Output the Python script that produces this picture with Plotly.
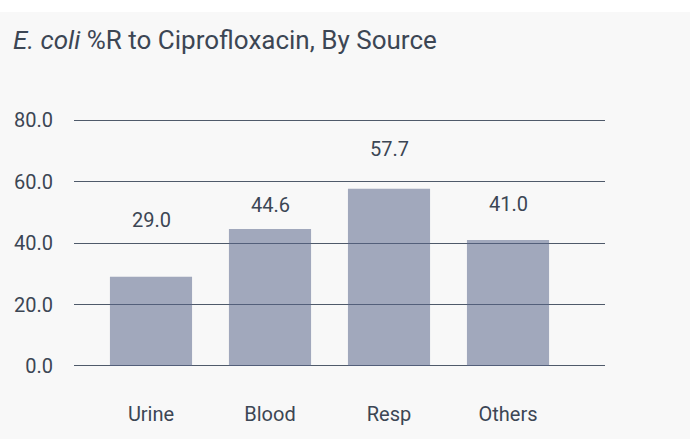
import plotly.graph_objects as go

categories = ["Urine", "Blood", "Resp", "Others"]
values = [29.0, 44.6, 57.7, 41.0]
y_ticks = [0, 20, 40, 60, 80]
y_tick_labels = ["0.0", "20.0", "40.0", "60.0", "80.0"]

# style: per-label vertical offsets (px) as seen in the reference
label_shift = [43, 10, 26, 22]

TXT = "#3c4654"
FONT = "Roboto"

fig = go.Figure()
fig.add_trace(go.Bar(
    x=list(range(len(categories))), y=values,
    width=0.69,
    marker=dict(color="rgba(86,100,136,0.54)", line=dict(width=0)),
    hoverinfo="skip",
))

for i, (v, s) in enumerate(zip(values, label_shift)):
    fig.add_annotation(x=i, y=v, text=f"{v:.1f}", showarrow=False,
                       yanchor="bottom", yshift=s,
                       font=dict(family=FONT, size=20, color=TXT))

# white strip at the very top of the image
fig.add_shape(type="rect", xref="paper", yref="paper",
              x0=-1, x1=2, y0=1.405, y1=1.7,
              fillcolor="white", line=dict(width=0), layer="below")

fig.update_layout(
    width=690, height=439,
    margin=dict(l=74, r=85, t=114, b=73),
    paper_bgcolor="#f8f8f8", plot_bgcolor="#f8f8f8",
    showlegend=False,
    font=dict(family=FONT, color=TXT),
    title=dict(text="<i>E. coli</i> %R to Ciprofloxacin, By Source",
               x=0.019, xanchor="left", y=0.91, yanchor="middle",
               font=dict(family=FONT, size=26, color=TXT)),
    xaxis=dict(range=[-0.647, 3.815], tickmode="array",
               tickvals=list(range(len(categories))), ticktext=categories,
               showgrid=False, zeroline=False, showline=False,
               ticks="", ticklabelstandoff=34,
               tickfont=dict(family=FONT, size=20, color=TXT)),
    yaxis=dict(range=[-0.01, 82], tickmode="array", tickvals=y_ticks,
               ticktext=y_tick_labels, showgrid=True,
               gridcolor="#4f5a6a", gridwidth=1,
               zeroline=True, zerolinecolor="#4f5a6a", zerolinewidth=1,
               showline=False, ticks="", ticklabelstandoff=20,
               tickfont=dict(family=FONT, size=20, color=TXT)),
)

fig.write_html("out.html", config={"displayModeBar": False},
               post_script="document.body.style.margin='0';")
